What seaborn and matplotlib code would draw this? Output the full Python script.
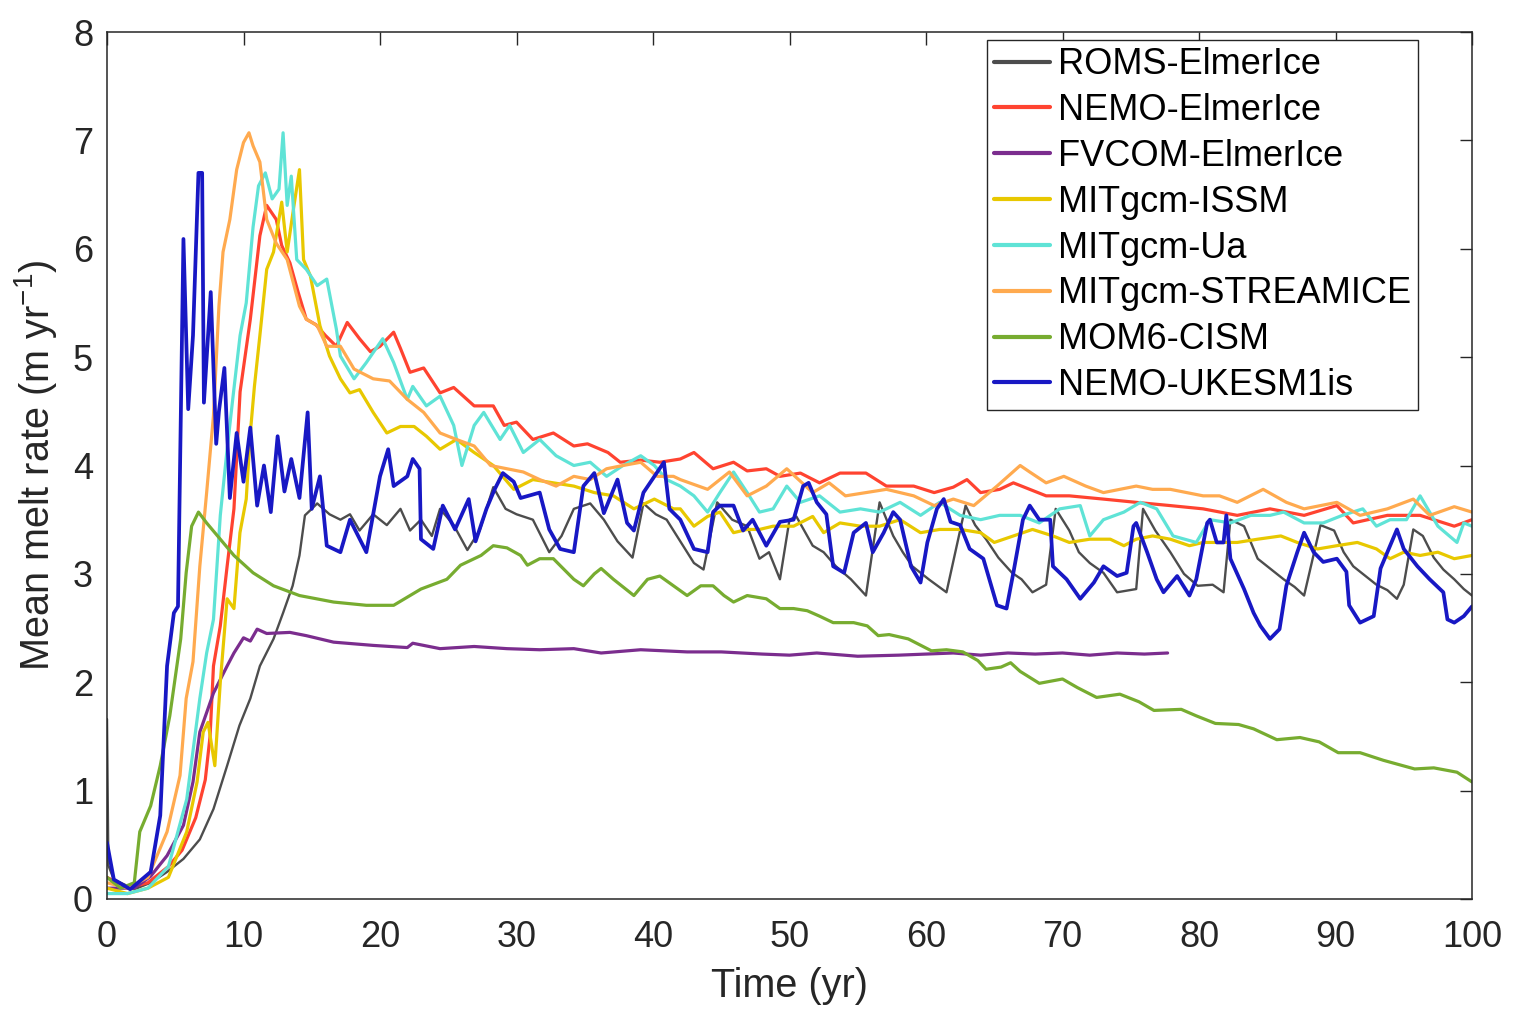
import pandas as pd
import matplotlib.pyplot as plt
import seaborn as sns

# (time in yr, mean melt rate in m/yr)
roms_elmerice = [(0, 1.66), (0.1, 0.31), (0.5, 0.18), (2, 0.09), (3.2, 0.15), (4.4, 0.25), (5.6, 0.37), (6.8, 0.55),
                 (7.8, 0.83), (8.8, 1.23), (9.7, 1.6), (10.5, 1.85), (11.2, 2.15), (12.2, 2.4), (12.9, 2.64), (13.6, 2.89),
                 (14.1, 3.17), (14.5, 3.54), (15.0, 3.6), (15.4, 3.65), (16.3, 3.55), (17.1, 3.5), (17.8, 3.55), (18.5, 3.4),
                 (19.5, 3.55), (20.5, 3.45), (21.5, 3.6), (22.2, 3.4), (23.0, 3.5), (23.8, 3.35), (24.4, 3.6), (25.4, 3.45),
                 (26.4, 3.22), (27.3, 3.4), (28.3, 3.8), (29.2, 3.6), (30.0, 3.55), (31.2, 3.5), (32.4, 3.2), (33.3, 3.35),
                 (34.2, 3.6), (35.4, 3.65), (36.4, 3.5), (37.4, 3.3), (38.5, 3.15), (39.3, 3.65), (40.2, 3.55), (41.0, 3.5),
                 (42.0, 3.3), (43.0, 3.1), (43.7, 3.04), (44.7, 3.66), (45.8, 3.5), (46.9, 3.44), (47.8, 3.14), (48.5, 3.2),
                 (49.3, 2.95), (50.0, 3.5), (50.5, 3.53), (51.7, 3.26), (52.5, 3.2), (53.4, 3.07), (54.5, 2.95), (55.6, 2.8),
                 (56.6, 3.66), (57.6, 3.35), (58.3, 3.2), (59.0, 3.07), (60.2, 2.95), (61.5, 2.83), (62.9, 3.63), (63.6, 3.45),
                 (64.4, 3.32), (65.3, 3.15), (66.3, 3.01), (67.0, 2.95), (67.8, 2.83), (68.8, 2.9), (69.5, 3.6), (70.5, 3.4),
                 (71.2, 3.2), (72.0, 3.1), (73.0, 3.01), (74.0, 2.83), (75.4, 2.86), (75.9, 3.6), (76.8, 3.4), (77.9, 3.2),
                 (78.9, 3.0), (79.9, 2.89), (81.0, 2.9), (81.8, 2.83), (82.3, 3.5), (83.3, 3.44), (84.3, 3.14), (85.2, 3.05),
                 (86.2, 2.95), (87.0, 2.88), (87.7, 2.8), (88.9, 3.45), (89.9, 3.4), (90.6, 3.2), (91.3, 3.07), (92.2, 2.98),
                 (93.0, 2.9), (93.8, 2.85), (94.5, 2.77), (95.0, 2.9), (95.7, 3.41), (96.4, 3.35), (97.2, 3.15), (97.9, 3.04),
                 (98.7, 2.95), (99.4, 2.86), (100, 2.8)]

nemo_elmerice = [(0, 0.2), (1.5, 0.1), (3, 0.15), (4.5, 0.3), (5.5, 0.45), (6.5, 0.75), (7.2, 1.1), (7.55, 1.5), (7.8, 2.15),
                 (8.3, 2.52), (8.8, 3.07), (9.3, 3.6), (9.75, 4.68), (10.5, 5.35), (11.2, 6.12), (11.7, 6.4), (12.4, 6.27),
                 (12.8, 6.03), (13.4, 5.87), (14.0, 5.6), (14.6, 5.35), (15.3, 5.3), (16.0, 5.2), (16.8, 5.1), (17.6, 5.32),
                 (18.5, 5.17), (19.3, 5.05), (20.0, 5.1), (21.0, 5.23), (21.5, 5.08), (22.2, 4.86), (23.2, 4.9), (24.4, 4.67),
                 (25.4, 4.72), (26.9, 4.55), (28.3, 4.55), (29.1, 4.37), (30.0, 4.4), (31.2, 4.24), (32.7, 4.3), (34.2, 4.18),
                 (35.2, 4.2), (36.7, 4.12), (37.6, 4.03), (39.1, 4.05), (40.5, 4.03), (42.0, 4.06), (43.0, 4.12), (44.4, 3.97),
                 (45.9, 4.03), (46.9, 3.95), (48.3, 3.97), (49.3, 3.9), (50.8, 3.93), (52.2, 3.84), (53.7, 3.93), (55.6, 3.93),
                 (57.1, 3.81), (59.1, 3.81), (60.6, 3.75), (62.0, 3.8), (63.0, 3.87), (64.0, 3.75), (65.4, 3.78), (66.4, 3.84),
                 (67.6, 3.78), (68.8, 3.72), (70.5, 3.72), (73.0, 3.69), (75.4, 3.66), (77.9, 3.63), (80.3, 3.6), (82.8, 3.54),
                 (85.2, 3.6), (87.7, 3.54), (90.1, 3.63), (91.3, 3.47), (93.8, 3.54), (96.2, 3.54), (98.7, 3.44), (100, 3.5)]

fvcom_elmerice = [(0, 0.1), (2, 0.1), (3.2, 0.21), (4.4, 0.4), (5.6, 0.68), (6.3, 1.08), (6.8, 1.54), (7.8, 1.9),
                  (8.8, 2.15), (9.3, 2.27), (10.0, 2.41), (10.5, 2.38), (11.0, 2.49), (11.7, 2.45), (13.4, 2.46),
                  (14.6, 2.43), (16.6, 2.37), (19.5, 2.34), (22.0, 2.32), (22.4, 2.36), (24.4, 2.31), (26.9, 2.33),
                  (29.3, 2.31), (31.7, 2.3), (34.2, 2.31), (36.2, 2.27), (39.1, 2.3), (42.5, 2.28), (45, 2.28), (48, 2.26),
                  (50, 2.25), (52, 2.27), (55, 2.24), (58, 2.25), (60, 2.26), (62, 2.27), (64, 2.25), (66, 2.27),
                  (68, 2.26), (70, 2.27), (72, 2.25), (74, 2.27), (76, 2.26), (77.7, 2.27)]

mitgcm_issm = [(0, 0.1), (1.5, 0.05), (3, 0.1), (4.5, 0.2), (5.84, 0.62), (6.6, 1.08), (7.05, 1.54), (7.4, 1.63),
               (7.9, 1.23), (8.3, 2.0), (8.8, 2.77), (9.3, 2.68), (9.74, 3.38), (10.2, 3.69), (10.5, 4.3), (10.8, 4.73),
               (11.2, 5.2), (11.7, 5.81), (12.2, 5.97), (12.8, 6.43), (13.2, 5.97), (13.7, 6.4), (14.1, 6.73), (14.4, 5.9),
               (14.9, 5.75), (15.6, 5.29), (16.3, 5.01), (17.1, 4.8), (17.8, 4.67), (18.5, 4.7), (19.5, 4.49), (20.5, 4.3),
               (21.5, 4.36), (22.5, 4.36), (23.4, 4.27), (24.4, 4.15), (25.6, 4.24), (26.9, 4.12), (28.3, 4.0), (29.8, 3.78),
               (31.2, 3.87), (32.7, 3.84), (34.2, 3.81), (35.7, 3.75), (37.1, 3.72), (38.6, 3.6), (40.1, 3.69), (41.5, 3.6),
               (42.0, 3.6), (43.0, 3.44), (44.0, 3.53), (44.9, 3.57), (45.9, 3.38), (46.9, 3.41), (47.8, 3.41), (48.8, 3.44),
               (50.3, 3.44), (51.7, 3.53), (52.5, 3.38), (53.7, 3.47), (55.2, 3.44), (56.6, 3.44), (58.1, 3.5), (59.6, 3.38),
               (61.0, 3.41), (62.5, 3.41), (64.0, 3.38), (65.0, 3.29), (66.4, 3.35), (67.8, 3.41), (69.3, 3.35), (70.5, 3.29),
               (72.0, 3.32), (73.5, 3.32), (74.5, 3.26), (75.4, 3.32), (76.6, 3.35), (77.9, 3.32), (79.3, 3.26), (80.3, 3.29),
               (81.5, 3.29), (82.8, 3.29), (84.3, 3.32), (86.0, 3.35), (87.2, 3.29), (88.7, 3.23), (90.1, 3.26), (91.6, 3.29),
               (93.0, 3.23), (94.0, 3.14), (95.0, 3.2), (96.2, 3.17), (97.5, 3.2), (98.7, 3.14), (100, 3.17)]

mitgcm_ua = [(0, 0.05), (1.5, 0.05), (3, 0.1), (4.5, 0.3), (5.84, 0.92), (6.8, 1.85), (7.3, 2.27), (7.8, 2.58), (8.3, 3.54),
             (8.8, 4.15), (9.2, 4.6), (9.75, 5.2), (10.2, 5.5), (10.7, 6.2), (11.1, 6.58), (11.6, 6.7), (12.1, 6.46),
             (12.6, 6.55), (12.9, 7.07), (13.2, 6.4), (13.5, 6.67), (13.9, 5.9), (14.6, 5.81), (15.4, 5.66), (16.1, 5.72),
             (16.8, 5.26), (17.1, 5.01), (18.1, 4.8), (19.0, 4.95), (20.2, 5.17), (21.0, 4.95), (22.0, 4.61), (22.4, 4.73),
             (23.4, 4.55), (24.4, 4.64), (25.4, 4.37), (26.0, 4.0), (26.9, 4.37), (27.6, 4.49), (28.8, 4.24), (29.5, 4.37),
             (30.5, 4.12), (31.7, 4.24), (32.9, 4.09), (34.2, 4.0), (35.4, 4.03), (36.6, 3.9), (37.8, 4.0), (39.1, 4.09),
             (40.1, 4.0), (41.0, 3.87), (42.0, 3.81), (43.0, 3.72), (44.0, 3.57), (44.9, 3.75), (45.9, 3.94), (46.9, 3.75),
             (47.8, 3.57), (48.8, 3.6), (49.8, 3.81), (50.8, 3.66), (52.2, 3.72), (53.7, 3.57), (55.2, 3.6), (56.6, 3.57),
             (58.1, 3.66), (59.6, 3.54), (61.0, 3.66), (62.5, 3.54), (64.0, 3.5), (65.4, 3.54), (66.9, 3.54), (68.3, 3.47),
             (69.8, 3.6), (71.3, 3.63), (72.0, 3.35), (73.0, 3.5), (74.5, 3.57), (75.7, 3.66), (76.9, 3.6), (78.1, 3.35),
             (79.8, 3.29), (80.8, 3.5), (82.3, 3.47), (83.8, 3.54), (85.2, 3.54), (86.2, 3.57), (87.7, 3.47), (89.1, 3.47),
             (90.5, 3.54), (92.0, 3.6), (93.0, 3.44), (94.0, 3.5), (95.2, 3.5), (96.2, 3.72), (97.5, 3.44), (98.9, 3.29),
             (99.4, 3.47), (100, 3.44)]

mitgcm_streamice = [(0, 0.15), (1.5, 0.1), (3, 0.2), (4.4, 0.62), (5.35, 1.14), (5.8, 1.85), (6.3, 2.19), (6.8, 3.07),
                    (7.3, 3.75), (7.8, 4.46), (8.2, 5.47), (8.5, 5.97), (9.0, 6.27), (9.5, 6.73), (10.0, 6.98), (10.4, 7.07),
                    (10.7, 6.95), (11.2, 6.8), (11.7, 6.27), (12.4, 6.05), (13.2, 5.9), (14.1, 5.47), (14.6, 5.35),
                    (15.4, 5.29), (16.1, 5.1), (17.1, 5.1), (18.1, 4.89), (19.5, 4.8), (20.7, 4.78), (22.0, 4.61),
                    (23.2, 4.49), (24.4, 4.3), (25.6, 4.24), (26.9, 4.18), (28.1, 4.0), (29.3, 3.97), (30.5, 3.94),
                    (31.7, 3.87), (32.9, 3.81), (34.2, 3.9), (35.4, 3.87), (36.6, 3.97), (37.8, 4.0), (39.1, 4.03),
                    (40.3, 3.9), (41.5, 3.9), (42.0, 3.87), (44.0, 3.78), (45.6, 3.94), (46.9, 3.72), (48.3, 3.81),
                    (49.8, 3.97), (51.7, 3.75), (52.9, 3.84), (54.1, 3.72), (55.6, 3.75), (57.1, 3.78), (59.1, 3.72),
                    (60.6, 3.63), (62.0, 3.69), (63.5, 3.63), (65.2, 3.81), (66.9, 4.0), (67.6, 3.94), (68.8, 3.84),
                    (70.1, 3.9), (71.7, 3.81), (73.0, 3.75), (74.2, 3.78), (75.4, 3.81), (76.6, 3.78), (77.9, 3.78),
                    (79.1, 3.75), (80.3, 3.72), (81.5, 3.72), (82.8, 3.66), (84.7, 3.78), (86.4, 3.66), (87.7, 3.6),
                    (90.1, 3.66), (91.8, 3.54), (93.8, 3.6), (95.7, 3.69), (96.9, 3.54), (98.7, 3.62), (100, 3.57)]

mom6_cism = [(0, 0.2), (1.0, 0.1), (2.0, 0.15), (2.4, 0.62), (3.2, 0.86), (3.9, 1.23), (4.6, 1.69), (5.4, 2.4), (5.8, 3.01),
             (6.2, 3.44), (6.7, 3.57), (7.3, 3.47), (8.3, 3.32), (9.3, 3.17), (10.7, 3.01), (12.2, 2.89), (14.1, 2.8),
             (16.6, 2.74), (19.0, 2.71), (21.0, 2.71), (23.0, 2.86), (24.9, 2.95), (25.9, 3.08), (27.4, 3.17), (28.3, 3.26),
             (29.3, 3.24), (30.3, 3.17), (30.8, 3.08), (31.7, 3.14), (32.7, 3.14), (34.2, 2.95), (34.9, 2.89), (35.7, 3.0),
             (36.2, 3.05), (37.1, 2.95), (38.6, 2.8), (39.6, 2.95), (40.5, 2.98), (41.5, 2.89), (42.5, 2.8), (43.5, 2.89),
             (44.4, 2.89), (45.2, 2.8), (45.9, 2.74), (46.9, 2.8), (48.3, 2.77), (49.3, 2.68), (50.3, 2.68), (51.3, 2.66),
             (52.2, 2.61), (53.2, 2.55), (54.7, 2.55), (55.7, 2.52), (56.5, 2.43), (57.3, 2.44), (58.7, 2.4), (60.4, 2.29),
             (61.5, 2.3), (62.7, 2.28), (63.8, 2.2), (64.4, 2.12), (65.5, 2.14), (66.2, 2.18), (66.9, 2.1), (68.3, 1.99),
             (70.0, 2.03), (71.1, 1.95), (72.5, 1.86), (74.2, 1.89), (75.6, 1.82), (76.7, 1.74), (78.7, 1.75), (79.8, 1.69),
             (81.2, 1.62), (82.9, 1.61), (84.0, 1.57), (85.7, 1.47), (87.4, 1.49), (88.8, 1.45), (90.2, 1.35), (91.8, 1.35),
             (93.5, 1.28), (95.8, 1.2), (97.2, 1.21), (98.9, 1.17), (100, 1.08)]

nemo_ukesm1is = [(0, 0.52), (0.5, 0.18), (1.7, 0.09), (3.2, 0.25), (3.9, 0.77), (4.4, 2.15), (4.9, 2.64), (5.2, 2.7),
                 (5.6, 6.09), (5.95, 4.52), (6.3, 5.2), (6.7, 6.7), (6.97, 6.7), (7.1, 4.58), (7.6, 5.6), (8.0, 4.2),
                 (8.2, 4.5), (8.6, 4.9), (9.0, 3.7), (9.5, 4.3), (10.0, 3.85), (10.5, 4.35), (11.0, 3.63), (11.5, 4.0),
                 (12.0, 3.57), (12.5, 4.27), (13.0, 3.76), (13.5, 4.06), (14.1, 3.7), (14.7, 4.49), (15.0, 3.6), (15.6, 3.9),
                 (16.1, 3.26), (17.1, 3.2), (17.8, 3.5), (19.0, 3.2), (20.0, 3.9), (20.6, 4.15), (21.0, 3.81), (22.0, 3.9),
                 (22.4, 4.06), (22.9, 3.97), (23.0, 3.32), (23.9, 3.23), (24.6, 3.63), (25.5, 3.41), (26.5, 3.69),
                 (27.0, 3.3), (27.8, 3.6), (28.4, 3.78), (29.0, 3.93), (29.8, 3.85), (30.3, 3.7), (31.7, 3.75), (32.4, 3.41),
                 (33.2, 3.23), (34.2, 3.2), (34.9, 3.81), (35.7, 3.93), (36.4, 3.56), (37.4, 3.87), (38.1, 3.47),
                 (38.6, 3.4), (39.3, 3.75), (40.8, 4.03), (41.2, 3.6), (42.0, 3.5), (43.0, 3.23), (44.0, 3.2), (44.4, 3.57),
                 (44.9, 3.63), (45.9, 3.63), (46.6, 3.4), (47.3, 3.5), (48.3, 3.26), (49.3, 3.48), (50.3, 3.5),
                 (51.0, 3.81), (51.4, 3.84), (52.0, 3.66), (52.7, 3.55), (53.2, 3.07), (54.0, 3.01), (54.7, 3.38),
                 (55.6, 3.47), (56.1, 3.2), (56.9, 3.38), (57.6, 3.57), (58.1, 3.5), (58.9, 3.07), (59.6, 2.92),
                 (60.1, 3.29), (60.8, 3.6), (61.3, 3.69), (61.8, 3.48), (62.5, 3.45), (63.2, 3.23), (64.2, 3.14),
                 (65.2, 2.71), (65.9, 2.68), (66.4, 3.01), (67.1, 3.5), (67.6, 3.63), (68.3, 3.5), (69.1, 3.5),
                 (69.3, 3.07), (70.3, 2.95), (71.3, 2.77), (72.3, 2.92), (73.0, 3.07), (74.0, 2.98), (74.7, 3.01),
                 (75.2, 3.44), (75.4, 3.47), (76.2, 3.2), (76.9, 2.95), (77.4, 2.83), (78.4, 2.98), (79.3, 2.8),
                 (79.8, 2.95), (80.6, 3.47), (80.8, 3.5), (81.3, 3.29), (81.8, 3.29), (82.0, 3.54), (82.3, 3.14),
                 (83.3, 2.86), (84.0, 2.64), (84.5, 2.52), (85.2, 2.4), (85.9, 2.49), (86.4, 2.89), (87.2, 3.2),
                 (87.7, 3.38), (88.4, 3.2), (89.1, 3.11), (90.1, 3.14), (90.8, 3.02), (91.0, 2.71), (91.8, 2.55),
                 (92.8, 2.61), (93.3, 3.05), (94.0, 3.26), (94.5, 3.41), (95.0, 3.23), (96.0, 3.07), (96.9, 2.95),
                 (97.9, 2.83), (98.2, 2.58), (98.7, 2.55), (99.4, 2.61), (100, 2.7)]

models = ['ROMS-ElmerIce', 'NEMO-ElmerIce', 'FVCOM-ElmerIce', 'MITgcm-ISSM',
          'MITgcm-Ua', 'MITgcm-STREAMICE', 'MOM6-CISM', 'NEMO-UKESM1is']
series = [roms_elmerice, nemo_elmerice, fvcom_elmerice, mitgcm_issm,
          mitgcm_ua, mitgcm_streamice, mom6_cism, nemo_ukesm1is]
colors = ['#4d4d4d', '#ff4330', '#7b2d8e', '#e8c800', '#5fe3d6', '#ffaa4f', '#77ac30', '#1818c4']
widths = [1.7, 2.3, 2.3, 2.3, 2.3, 2.3, 2.3, 2.7]

# long-form table for seaborn
df = pd.concat([pd.DataFrame(s, columns=['t', 'rate']).assign(model=m) for m, s in zip(models, series)],
               ignore_index=True)

sns.set_style('white')
plt.rcParams['font.family'] = ['Liberation Sans', 'DejaVu Sans']
plt.rcParams['mathtext.fontset'] = 'custom'
plt.rcParams['mathtext.rm'] = 'Liberation Sans'
plt.rcParams['mathtext.it'] = 'Liberation Sans'
ink = '#262626'

fig = plt.figure(figsize=(15.22, 10.26), dpi=100)
ax = fig.add_axes([107 / 1522, 1 - 899 / 1026, 1365 / 1522, 867 / 1026])

for m, c, lw in zip(models, colors, widths):
    sns.lineplot(data=df[df['model'] == m], x='t', y='rate', color=c, lw=lw,
                 estimator=None, sort=False, label=m, ax=ax)

ax.set_xlim(0, 100)
ax.set_ylim(0, 8)
ax.set_xticks(range(0, 101, 10))
ax.set_yticks(range(0, 9))
ax.tick_params(direction='in', top=True, right=True, length=9, width=1, colors=ink,
               labelsize=26, pad=15)
ax.tick_params(axis='y', pad=10)
for sp in ax.spines.values():
    sp.set_visible(True)
    sp.set_color(ink)
    sp.set_linewidth(1.1)

ax.set_xlabel('Time (yr)', fontsize=28.5, color=ink, labelpad=9)
ax.set_ylabel('Mean melt rate (m yr$^{-1}$)', fontsize=28.5, color=ink, labelpad=10)

leg = ax.legend(loc='upper right', bbox_to_anchor=((1418 - 107) / 1365, (899 - 40) / 867),
                borderaxespad=0, fontsize=26, frameon=True, fancybox=False, framealpha=1,
                handlelength=1.55, handletextpad=0.2, labelspacing=0.3, borderpad=0.2)
leg.get_frame().set_edgecolor(ink)
leg.get_frame().set_linewidth(1.0)
for t in leg.get_texts():
    t.set_color('black')
for h in leg.get_lines():
    h.set_linewidth(3)

fig.savefig('out.png', dpi=100)
